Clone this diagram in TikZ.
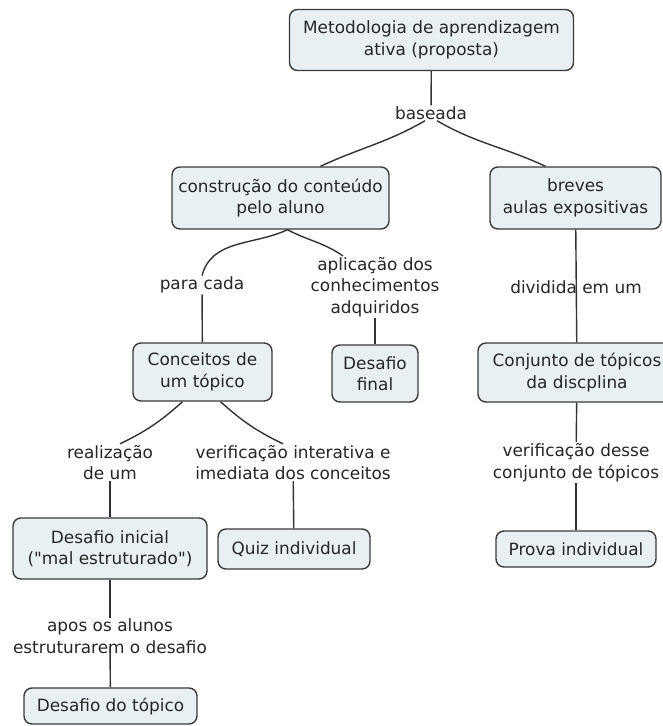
\documentclass[tikz,border=0pt]{standalone}
\usepackage{fontspec}
\setmainfont{DejaVu Sans}
\definecolor{boxfill}{HTML}{E8F0F4}
\definecolor{boxline}{HTML}{3A3A3A}
\definecolor{linkc}{HTML}{333333}
\newcommand\fsz{\fontsize{16.9}{21.5}\selectfont}
\begin{document}
\begin{tikzpicture}[x=1pt,y=-1pt,
  concept/.style={draw=boxline, fill=boxfill, line width=1.4pt, rounded corners=8pt,
    align=center, inner sep=0pt, font=\fsz, text=black!85},
  lab/.style={align=center, inner sep=1pt, font=\fsz, text=black!85},
  link/.style={draw=linkc, line width=1.4pt}]
\useasboundingbox (0,0) rectangle (663,726);
\clip (0,0) rectangle (663,726);

% concepts
\node[concept, minimum width=284pt, minimum height=61pt] (top) at (431.5,40) {Metodologia de aprendizagem\\ativa (proposta)};
\node[concept, minimum width=217pt, minimum height=62pt] (cons) at (280.5,198) {construção do conteúdo\\pelo aluno};
\node[concept, minimum width=171pt, minimum height=62pt] (breves) at (575.5,198) {breves\\aulas expositivas};
\node[concept, minimum width=139pt, minimum height=58pt] (conc) at (202.5,372) {Conceitos de\\um tópico};
\node[concept, minimum width=86pt, minimum height=57pt] (dfin) at (375,373.5) {Desafio\\final};
\node[concept, minimum width=198pt, minimum height=59pt] (conj) at (577,372.5) {Conjunto de tópicos\\da discplina};
\node[concept, minimum width=194pt, minimum height=61pt] (dini) at (110,548.5) {Desafio inicial\\(\textquotedbl mal estruturado\textquotedbl)};
\node[concept, minimum width=152pt, minimum height=40pt] (quiz) at (294,549) {Quiz individual};
\node[concept, minimum width=160pt, minimum height=36pt] (prova) at (576,549) {Prova individual};
\node[concept, minimum width=173pt, minimum height=36pt] (dtop) at (110.5,706) {Desafio do tópico};

% linking phrases
\node[lab] (base) at (431,113) {baseada};
\node[lab] (parac) at (202,285) {para cada};
\node[lab] (aplic) at (375,287) {aplicação dos\\conhecimentos\\adquiridos};
\node[lab] (divid) at (576,287) {dividida em um};
\node[lab] (realiz) at (110,462.5) {realização\\de um};
\node[lab] (verint) at (293,462.5) {verificação interativa e\\imediata dos conceitos};
\node[lab] (verdes) at (576,462.5) {verificação desse\\conjunto de tópicos};
\node[lab] (apos) at (110,636) {apos os alunos\\estruturarem o desafio};

% connectors
\draw[link] (top) -- (base);
\draw[link] ([xshift=-6pt]base.south) to[out=-150,in=25] ([xshift=40pt]cons.north);
\draw[link] ([xshift=6pt]base.south) to[out=-30,in=155] ([xshift=-30pt]breves.north);
\draw[link] ([xshift=7pt]cons.south) to[out=-155,in=75] (parac.north);
\draw[link] ([xshift=7pt]cons.south) to[out=-28,in=145] ([xshift=-32pt]aplic.north);
\draw[link] (parac) -- (conc);
\draw[link] (aplic) -- (dfin);
\draw[link] (breves) -- (conj);
\draw[link] ([xshift=-20pt]conc.south) to[bend left=8] ([xshift=10pt]realiz.north);
\draw[link] ([xshift=18pt]conc.south) to[bend right=8] ([xshift=-10pt]verint.north);
\draw[link] (realiz) -- (dini);
\draw[link] (verint) -- (quiz);
\draw[link] (conj) -- (verdes);
\draw[link] (verdes) -- (prova);
\draw[link] (dini) -- (apos);
\draw[link] ([yshift=8pt]apos.south) -- (dtop);
\end{tikzpicture}
\end{document}
